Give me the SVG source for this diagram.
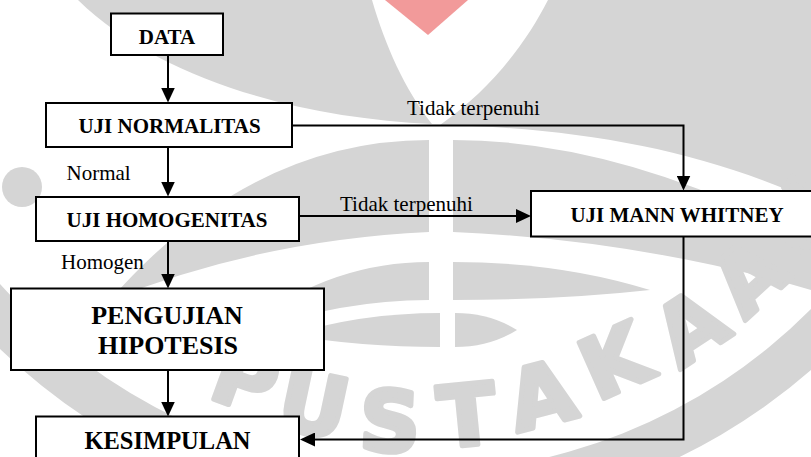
<svg xmlns="http://www.w3.org/2000/svg" width="811" height="457" viewBox="0 0 811 457">
  <defs>
    <marker id="arrow" markerUnits="userSpaceOnUse" markerWidth="15" markerHeight="14" refX="7" refY="7" orient="auto">
      <path d="M0,0 L15,7 L0,14 Z" fill="#000"/>
    </marker>
    <style>
      .box { fill: #fff; stroke: #000; stroke-width: 2; }
      .lbl { font-family: "Liberation Serif", "Times New Roman", serif; font-weight: bold; font-size: 21px; fill: #000; text-anchor: middle; }
      .big { font-size: 26px; }
      .kes { font-size: 24.5px; }
      .note { font-family: "Liberation Serif", "Times New Roman", serif; font-size: 21px; fill: #000; }
      .conn { fill: none; stroke: #000; stroke-width: 2; }
      .wm { fill: #d5d5d5; }
      .wmt { font-family: "DejaVu Sans", "Liberation Sans", sans-serif; font-weight: bold; font-size: 84px; fill: #d5d5d5; stroke: #d5d5d5; stroke-width: 5; stroke-linejoin: round; text-anchor: middle; }
    </style>
  </defs>
  <rect width="811" height="457" fill="#fff"/>

  <g id="watermark">
    <path class="wm" d="M78,0 L372,0 C385,45 405,90 432,124 C300,118 160,80 78,0 Z"/>
    <path class="wm" d="M548,0 L811,0 L811,200 C700,150 580,128 440,125 C490,90 525,45 548,0 Z"/>
    <path d="M385,0 L468,0 L428,35 Z" fill="#f29a9a"/>
    <path class="wm" d="M429,140 Q250,140 110,300 Q260,240 429,232 Z"/>
    <path class="wm" d="M453,140 Q620,140 811,240 L811,290 Q640,240 453,232 Z"/>
    <path class="wm" d="M429,262 Q320,262 230,340 Q330,300 429,300 Z"/>
    <path class="wm" d="M453,262 Q560,262 650,290 Q560,300 453,300 Z"/>
    <path class="wm" d="M440,313 L440,347 Q360,347 290,335 Q360,313 440,313 Z"/>
    <path class="wm" d="M455,313 L455,347 Q490,347 517,330 Q490,313 455,313 Z"/>
    <circle class="wm" cx="22" cy="187" r="20"/>
    <path class="wm" d="M0,284 A555,555 0 0 0 811,309 L811,370 A600,600 0 0 1 0,349 Z"/>
    <text class="wmt" transform="translate(246,378) rotate(20)" x="0" y="31">P</text>
    <text class="wmt" transform="translate(314,403) rotate(12)" x="0" y="31">U</text>
    <text class="wmt" transform="translate(390,420) rotate(2.5)" x="0" y="31">S</text>
    <text class="wmt" transform="translate(467,414) rotate(-5.6)" x="0" y="31">T</text>
    <text class="wmt" transform="translate(541,394) rotate(-14.6)" x="0" y="31">A</text>
    <text class="wmt" transform="translate(614,360) rotate(-24)" x="0" y="31">K</text>
    <text class="wmt" transform="translate(690,326) rotate(-33.6)" x="0" y="31">A</text>
    <text class="wmt" transform="translate(748,276) rotate(-42.5)" x="0" y="31">A</text>
    <text class="wmt" transform="translate(800,216) rotate(-52.6)" x="0" y="31">N</text>
  </g>

  <g id="connectors">
    <path class="conn" d="M168,55 L168,94.5" marker-end="url(#arrow)"/>
    <path class="conn" d="M168,147 L168,188.5" marker-end="url(#arrow)"/>
    <path class="conn" d="M168,241 L168,280.5" marker-end="url(#arrow)"/>
    <path class="conn" d="M168,370 L168,408.5" marker-end="url(#arrow)"/>
    <path class="conn" d="M292,125.5 L683.5,125.5 L683.5,182.5" marker-end="url(#arrow)"/>
    <path class="conn" d="M299,216 L523,216" marker-end="url(#arrow)"/>
    <path class="conn" d="M683.5,236.5 L683.5,439.5 L308,439.5" marker-end="url(#arrow)"/>
    <text class="note" x="407" y="115">Tidak terpenuhi</text>
    <text class="note" x="340" y="210.5">Tidak terpenuhi</text>
    <text class="note" x="66.5" y="180">Normal</text>
    <text class="note" x="61" y="269">Homogen</text>
  </g>

  <g id="data">
    <rect class="box" x="111" y="13.5" width="112" height="41.5"/>
    <text class="lbl" x="167" y="43.5">DATA</text>
  </g>
  <g id="uji-normalitas">
    <rect class="box" x="46" y="103" width="246" height="44"/>
    <text class="lbl" x="169.5" y="132.7">UJI NORMALITAS</text>
  </g>
  <g id="uji-homogenitas">
    <rect class="box" x="36" y="197" width="263" height="44"/>
    <text class="lbl" x="167" y="226.7">UJI HOMOGENITAS</text>
  </g>
  <g id="uji-mann-whitney">
    <rect class="box" x="531" y="191" width="300" height="45.5"/>
    <text class="lbl" x="677" y="222">UJI MANN WHITNEY</text>
  </g>
  <g id="pengujian-hipotesis">
    <rect class="box" x="11" y="288.5" width="313" height="81.5"/>
    <text class="lbl big" x="167" y="324">PENGUJIAN</text>
    <text class="lbl big" x="168" y="354">HIPOTESIS</text>
  </g>
  <g id="kesimpulan">
    <rect class="box" x="36" y="416.5" width="263" height="60"/>
    <text class="lbl kes" x="167.5" y="448.5">KESIMPULAN</text>
  </g>
</svg>
